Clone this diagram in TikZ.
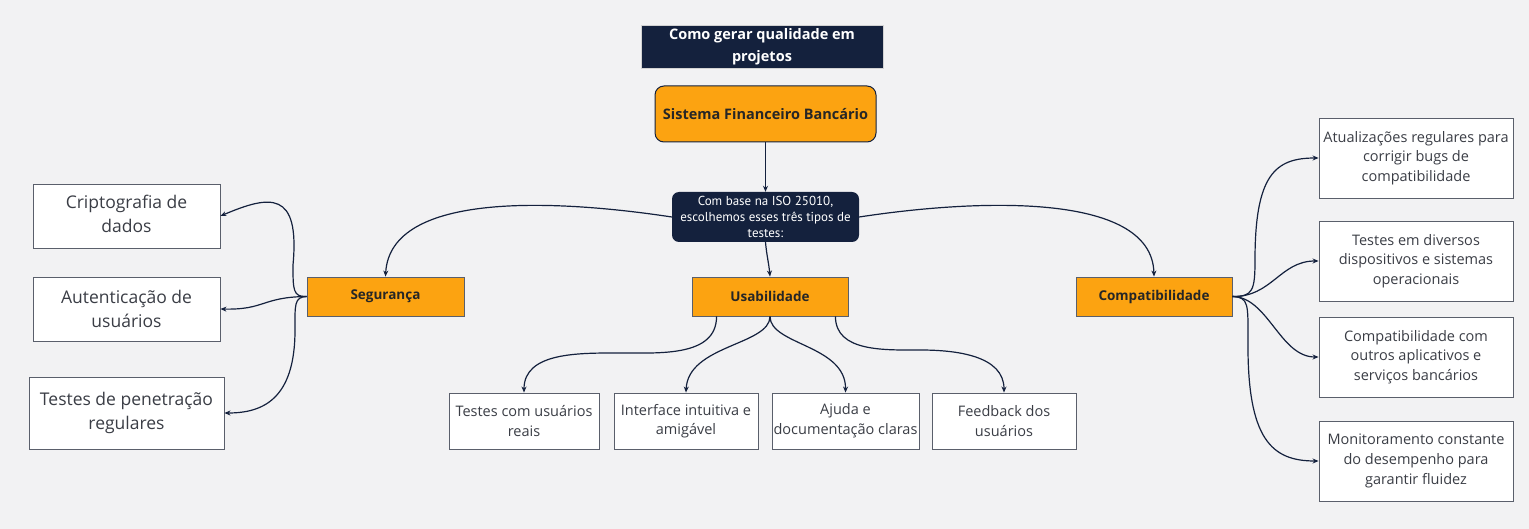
\documentclass[tikz,border=0pt]{standalone}
\usepackage{fontspec}
\setmainfont{Open Sans}
\newfontfamily\isofont{PT Sans}
\usetikzlibrary{arrows.meta,calc}
\definecolor{navy}{HTML}{14213D}
\definecolor{orng}{HTML}{FCA311}
\definecolor{bg}{HTML}{F2F2F3}
\definecolor{boxline}{HTML}{5A5F6B}
\definecolor{txt}{HTML}{3A3D45}
\begin{document}
\begin{tikzpicture}[x=1pt,y=-1pt,
 conn/.style={draw=navy, line width=1.2pt, -{Stealth[length=6pt,width=5pt]}},
 leaf/.style={draw=boxline, fill=white, line width=0.9pt, inner sep=0pt, align=center, text=txt, font=\fontsize{14.5}{19.7}\selectfont},
 bigleaf/.style={leaf, font=\fontsize{17.5}{24}\selectfont},
 cat/.style={draw=boxline, fill=orng, line width=0.9pt, inner sep=0pt, align=center, text=black!85, font=\bfseries\fontsize{13.5}{16}\selectfont, minimum width=156, minimum height=39},
]
\useasboundingbox (0,0) rectangle (1529,529);
\fill[bg] (0,0) rectangle (1529,529);

% top
\node[draw=gray!35, fill=navy, text=white, line width=0.8pt, inner sep=0pt, align=center,
      font=\bfseries\fontsize{14.5}{21.5}\selectfont, minimum width=242, minimum height=43]
      (title) at (762,46.5) {Como gerar qualidade em\\projetos};
\node[draw=navy, fill=orng, rounded corners=9pt, line width=1pt, inner sep=0pt, text=black!85,
      font=\bfseries\fontsize{14.5}{18}\selectfont, minimum width=221, minimum height=56]
      (sis) at (765.5,114) {Sistema Financeiro Bancário};
\node[fill=navy, rounded corners=7pt, inner sep=0pt, text=white, align=center,
      font=\isofont\fontsize{13}{16}\selectfont, minimum width=187, minimum height=50]
      (iso) at (765.5,217) {Com base na ISO 25010,\\escolhemos esses três tipos de\\testes:};

% categories
\node[cat, minimum width=157] (seg) at (385.5,296.5) {Segurança};
\node[cat] (usab) at (770,296.5) {Usabilidade};
\node[cat] (comp) at (1154,296.5) {Compatibilidade};

% left leaves
\node[bigleaf, minimum width=187, minimum height=64] (crip) at (126.5,216) {\raisebox{3pt}{\begin{tabular}{@{}c@{}}Criptografia de\\dados\end{tabular}}};
\node[bigleaf, minimum width=187, minimum height=64] (aut) at (126.5,309) {Autenticação de\\usuários};
\node[bigleaf, minimum width=195, minimum height=72] (pen) at (126.5,413) {\raisebox{-2pt}{\begin{tabular}{@{}c@{}}Testes de penetração\\regulares\end{tabular}}};

% bottom leaves
\node[leaf, minimum width=150, minimum height=56] (t1) at (524,421) {Testes com usuários\\reais};
\node[leaf, minimum width=144, minimum height=56] (t2) at (686,421) {\raisebox{5pt}{\begin{tabular}{@{}c@{}}Interface intuitiva e\\amigável\end{tabular}}};
\node[leaf, minimum width=147, minimum height=56] (t3) at (845.5,421) {Ajuda e\\documentação claras};
\node[leaf, minimum width=144, minimum height=56] (t4) at (1004,421) {Feedback dos\\usuários};

% right leaves
\node[leaf, minimum width=194, minimum height=80] (a1) at (1416,158) {Atualizações regulares para\\corrigir bugs de\\compatibilidade};
\node[leaf, minimum width=194, minimum height=80] (a2) at (1416,261) {Testes em diversos\\dispositivos e sistemas\\operacionais};
\node[leaf, minimum width=194, minimum height=80] (a3) at (1416,357) {Compatibilidade com\\outros aplicativos e\\serviços bancários};
\node[leaf, minimum width=194, minimum height=80] (a4) at (1416,461) {Monitoramento constante\\do desempenho para\\garantir fluidez};

% connectors: main
\draw[conn] (sis.south) -- (iso.north);
\draw[conn] (iso.south) to[out=-85,in=95] (usab.north);
\draw[conn] (iso.west) .. controls (560,200) and (390,190) .. (seg.north);
\draw[conn] (iso.east) .. controls (970,200) and (1152,190) .. (comp.north);

% Seguranca
\draw[conn] (seg.west) .. controls (293,297) and (293,290) .. (293,265) .. controls (300,190) and (270,195) .. (crip.east);
\draw[conn] (seg.west) .. controls (262,297) and (265,310) .. (aut.east);
\draw[conn] (seg.west) .. controls (294,297) and (295,305) .. (295,330) .. controls (295,400) and (262,413) .. (pen.east);

% Usabilidade
\draw[conn] ([xshift=25pt]usab.south west) to[out=-90,in=0] (620,353) to[out=180,in=90] (t1.north);
\draw[conn] (usab.south) .. controls (770,345) and (688,345) .. (t2.north);
\draw[conn] (usab.south) .. controls (770,345) and (846,345) .. (t3.north);
\draw[conn] ([xshift=-13pt]usab.south east) to[out=-90,in=180] (920,350) to[out=0,in=90] (t4.north);

% Compatibilidade
\draw[conn] (comp.east) .. controls (1253,297) and (1255,290) .. (1255,260) .. controls (1255,175) and (1275,158) .. (a1.west);
\draw[conn] (comp.east) .. controls (1272,297) and (1280,261) .. (a2.west);
\draw[conn] (comp.east) .. controls (1268,297) and (1280,357) .. (a3.west);
\draw[conn] (comp.east) .. controls (1249,297) and (1248,305) .. (1248,340) .. controls (1247,440) and (1272,461) .. (a4.west);
\end{tikzpicture}
\end{document}
